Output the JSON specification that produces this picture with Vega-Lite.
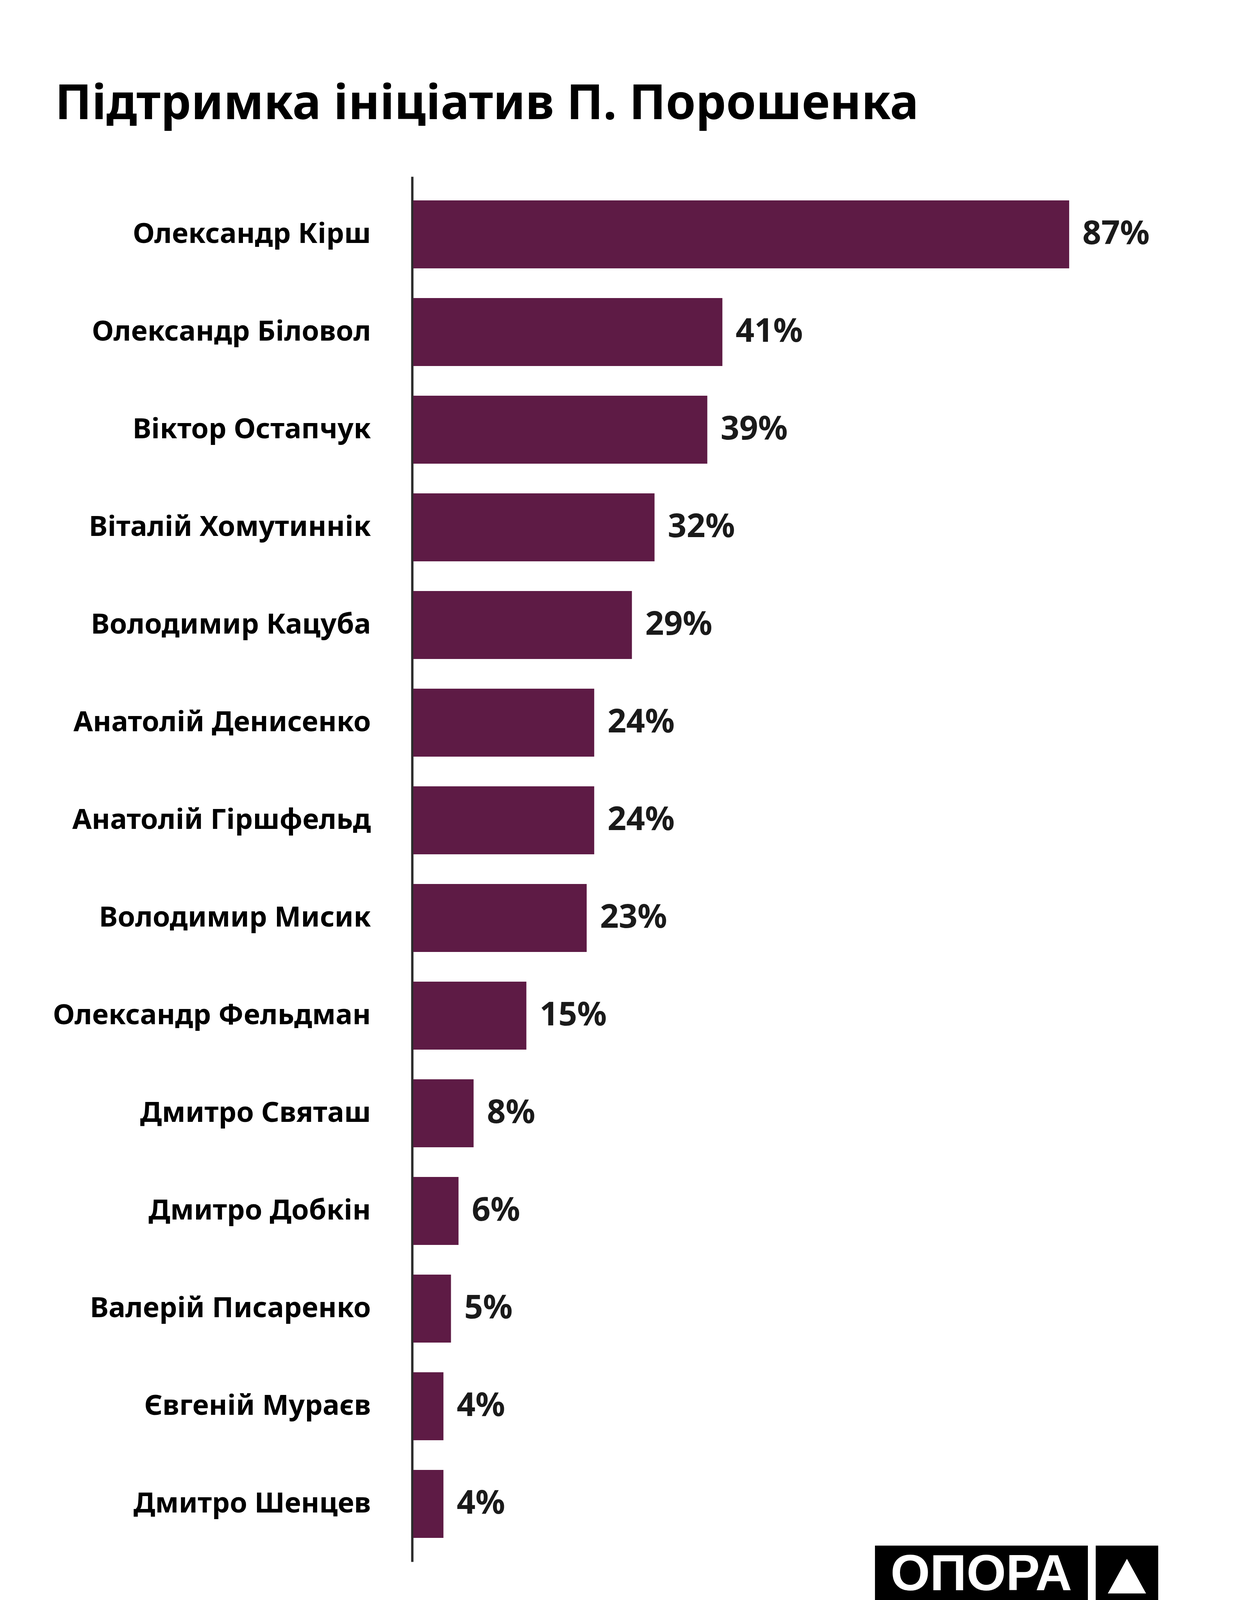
{
  "$schema": "https://vega.github.io/schema/vega-lite/v6.json",
  "autosize": {"type": "none"},
  "padding": {"left": 1058, "top": 452, "right": 212, "bottom": 202},
  "width": 1930,
  "height": 3546,
  "background": "#ffffff",
  "title": {
    "text": "Підтримка ініціатив П. Порошенка",
    "font": "Noto Sans",
    "fontSize": 123,
    "fontWeight": "bold",
    "color": "#000000",
    "anchor": "start",
    "frame": "group",
    "baseline": "alphabetic",
    "dx": -917,
    "offset": 24
  },
  "layer": [
    {
      "data": {
        "values": [
          {"name": "Олександр Кірш", "share": 0.87},
          {"name": "Олександр Біловол", "share": 0.41},
          {"name": "Віктор Остапчук", "share": 0.39},
          {"name": "Віталій Хомутиннік", "share": 0.32},
          {"name": "Володимир Кацуба", "share": 0.29},
          {"name": "Анатолій Денисенко", "share": 0.24},
          {"name": "Анатолій Гіршфельд", "share": 0.24},
          {"name": "Володимир Мисик", "share": 0.23},
          {"name": "Олександр Фельдман", "share": 0.15},
          {"name": "Дмитро Святаш", "share": 0.08},
          {"name": "Дмитро Добкін", "share": 0.06},
          {"name": "Валерій Писаренко", "share": 0.05},
          {"name": "Євгеній Мураєв", "share": 0.04},
          {"name": "Дмитро Шенцев", "share": 0.04}
        ]
      },
      "encoding": {
        "y": {
          "field": "name",
          "type": "nominal",
          "sort": null,
          "scale": {"paddingInner": 0.304, "paddingOuter": 0.244},
          "axis": {
            "title": null,
            "ticks": false,
            "grid": false,
            "domainColor": "#2b2b2b",
            "domainWidth": 6,
            "offset": 3,
            "labelFont": "Noto Sans",
            "labelFontSize": 72,
            "labelFontWeight": "bold",
            "labelColor": "#000000",
            "labelPadding": 106,
            "labelLimit": 0
          }
        },
        "x": {
          "field": "share",
          "type": "quantitative",
          "scale": {"domain": [0, 1], "nice": false},
          "axis": null
        }
      },
      "layer": [
        {
          "mark": {"type": "bar", "color": "#5e1b45"}
        },
        {
          "mark": {
            "type": "text",
            "align": "left",
            "baseline": "middle",
            "dx": 34,
            "font": "Noto Sans",
            "fontSize": 84,
            "fontWeight": "bold",
            "color": "#1a1a1a"
          },
          "encoding": {
            "text": {"field": "share", "type": "quantitative", "format": ".0%"}
          }
        }
      ]
    },
    {
      "data": {"values": [{}]},
      "mark": {"type": "rect", "color": "#000000"},
      "encoding": {
        "x": {"datum": 0.6124, "type": "quantitative"},
        "x2": {"datum": 0.8948},
        "y": {"datum": 1.16, "type": "quantitative", "scale": {"domain": [0, 100], "nice": false, "zero": false}, "axis": null},
        "y2": {"datum": -3.44}
      }
    },
    {
      "data": {"values": [{}]},
      "mark": {"type": "rect", "color": "#000000"},
      "encoding": {
        "x": {"datum": 0.9052, "type": "quantitative"},
        "x2": {"datum": 0.9881},
        "y": {"datum": 1.16, "type": "quantitative", "scale": {"domain": [0, 100], "nice": false, "zero": false}, "axis": null},
        "y2": {"datum": -3.44}
      }
    },
    {
      "data": {"values": [{"logo": "ОПОРА"}]},
      "mark": {
        "type": "text",
        "align": "center",
        "baseline": "middle",
        "font": "Liberation Sans",
        "fontSize": 130,
        "fontWeight": "bold",
        "color": "#ffffff"
      },
      "encoding": {
        "text": {"field": "logo"},
        "x": {"datum": 0.7534, "type": "quantitative"},
        "y": {"datum": -0.96, "type": "quantitative", "scale": {"domain": [0, 100], "nice": false, "zero": false}, "axis": null}
      }
    },
    {
      "data": {"values": [{}]},
      "mark": {
        "type": "point",
        "shape": "M0,-0.908L1,0.908L-1,0.908Z",
        "size": 9604,
        "filled": true,
        "color": "#ffffff",
        "opacity": 1
      },
      "encoding": {
        "x": {"datum": 0.9466, "type": "quantitative"},
        "y": {"datum": -1.04, "type": "quantitative", "scale": {"domain": [0, 100], "nice": false, "zero": false}, "axis": null}
      }
    }
  ],
  "resolve": {"scale": {"y": "independent"}},
  "config": {
    "view": {"stroke": null}
  }
}
